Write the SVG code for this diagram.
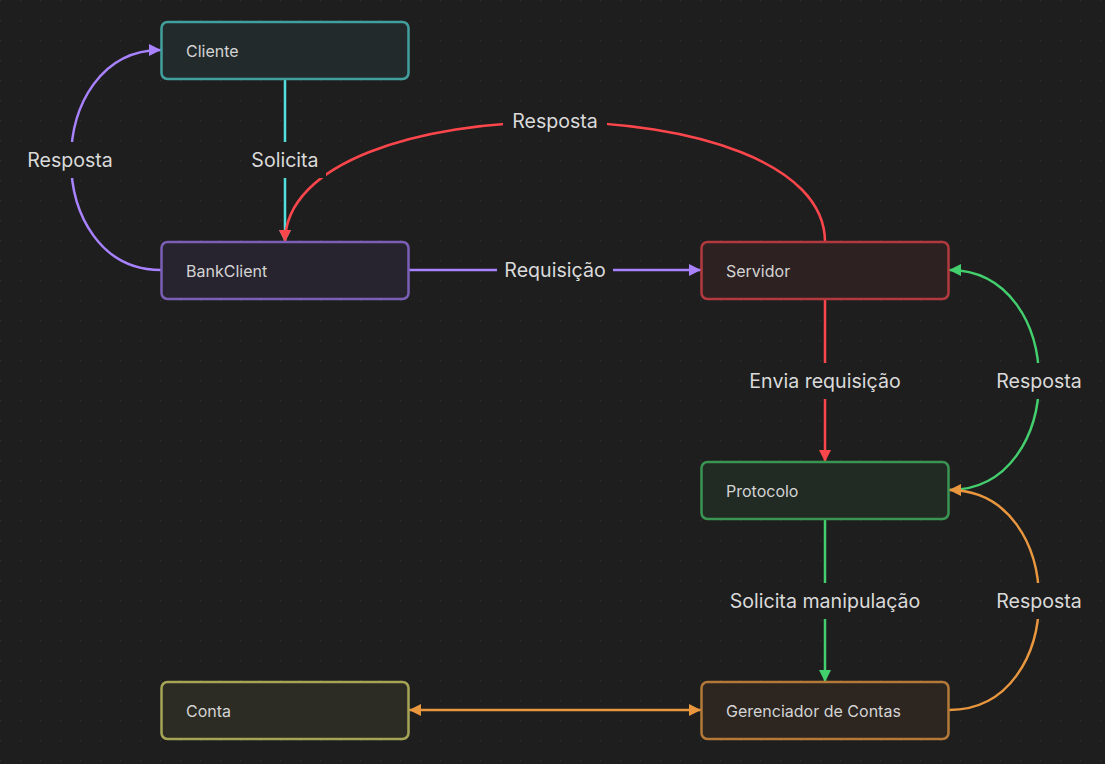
<svg xmlns="http://www.w3.org/2000/svg" width="1105" height="764" viewBox="0 0 1105 764">
<style>
.node rect{stroke-width:2.5}
.node text{font-family:Inter,"Noto Sans","Liberation Sans",sans-serif;font-size:16px;fill:#d4d4d4}
.edge{fill:none;stroke-width:2.5}
.lbl rect{fill:#1e1e1e}
.lbl text{font-family:Inter,"Noto Sans","Liberation Sans",sans-serif;font-size:19.6px;fill:#dadada;text-anchor:middle;dominant-baseline:central}
</style>
<defs>
<pattern id="dots" width="20" height="20" patternUnits="userSpaceOnUse">
<rect x="0" y="0" width="1.3" height="1.3" fill="#2f2f2f"/>
</pattern>
<marker id="aTeal" viewBox="0 0 12 12" refX="12" refY="6" markerWidth="12" markerHeight="12" markerUnits="userSpaceOnUse" orient="auto-start-reverse"><path d="M0,0 L12,6 L0,12 z" fill="#53dfdd"/></marker>
<marker id="aPurple" viewBox="0 0 12 12" refX="12" refY="6" markerWidth="12" markerHeight="12" markerUnits="userSpaceOnUse" orient="auto-start-reverse"><path d="M0,0 L12,6 L0,12 z" fill="#a882ff"/></marker>
<marker id="aRed" viewBox="0 0 12 12" refX="12" refY="6" markerWidth="12" markerHeight="12" markerUnits="userSpaceOnUse" orient="auto-start-reverse"><path d="M0,0 L12,6 L0,12 z" fill="#fb464c"/></marker>
<marker id="aGreen" viewBox="0 0 12 12" refX="12" refY="6" markerWidth="12" markerHeight="12" markerUnits="userSpaceOnUse" orient="auto-start-reverse"><path d="M0,0 L12,6 L0,12 z" fill="#44cf6e"/></marker>
<marker id="aOrange" viewBox="0 0 12 12" refX="12" refY="6" markerWidth="12" markerHeight="12" markerUnits="userSpaceOnUse" orient="auto-start-reverse"><path d="M0,0 L12,6 L0,12 z" fill="#e9973f"/></marker>
</defs>
<rect width="1105" height="764" fill="#1e1e1e"/>
<rect width="1105" height="764" fill="url(#dots)"/>

<g id="connectors">
<path class="edge" d="M285,79 L285,242" stroke="#53dfdd" marker-end="url(#aTeal)"/>
<path class="edge" d="M161,270 C41,270 41,50 161,50" stroke="#a882ff" marker-end="url(#aPurple)"/>
<path class="edge" d="M409,270 L701,270" stroke="#a882ff" marker-end="url(#aPurple)"/>
<path class="edge" d="M825,242 C825,82 285,82 285,242" stroke="#fb464c" marker-end="url(#aRed)"/>
<path class="edge" d="M825,299 L825,462" stroke="#fb464c" marker-end="url(#aRed)"/>
<path class="edge" d="M949,490 C1069,490 1069,270 949,270" stroke="#44cf6e" marker-end="url(#aGreen)"/>
<path class="edge" d="M825,519 L825,682" stroke="#44cf6e" marker-end="url(#aGreen)"/>
<path class="edge" d="M949,710 C1069,710 1069,490 949,490" stroke="#e9973f" marker-end="url(#aOrange)"/>
<path class="edge" d="M409,710 L701,710" stroke="#e9973f" marker-start="url(#aOrange)" marker-end="url(#aOrange)"/>

<g class="lbl"><rect x="18" y="142" width="104" height="36"/><text x="70" y="160">Resposta</text></g>
<g class="lbl"><rect x="244" y="142" width="82" height="36"/><text x="285" y="160">Solicita</text></g>
<g class="lbl"><rect x="503" y="103" width="104" height="36"/><text x="555" y="121">Resposta</text></g>
<g class="lbl"><rect x="497" y="252" width="116" height="36"/><text x="555" y="270">Requisição</text></g>
<g class="lbl"><rect x="741" y="363" width="168" height="36"/><text x="825" y="381">Envia requisição</text></g>
<g class="lbl"><rect x="987" y="363" width="104" height="36"/><text x="1039" y="381">Resposta</text></g>
<g class="lbl"><rect x="721" y="583" width="208" height="36"/><text x="825" y="601">Solicita manipulação</text></g>
<g class="lbl"><rect x="987" y="583" width="104" height="36"/><text x="1039" y="601">Resposta</text></g>
</g>

<g id="node-cliente" class="node"><rect x="161.5" y="22" width="247" height="57" rx="6" fill="#222a2b" stroke="#41a09e"/><text x="186" y="56.5">Cliente</text></g>
<g id="node-bankclient" class="node"><rect x="161.5" y="242" width="247" height="57" rx="6" fill="#28242f" stroke="#7b5fb6"/><text x="186" y="276.5">BankClient</text></g>
<g id="node-servidor" class="node"><rect x="701.5" y="242" width="247" height="57" rx="6" fill="#2d2122" stroke="#b23a3f"/><text x="726" y="276.5">Servidor</text></g>
<g id="node-protocolo" class="node"><rect x="701.5" y="462" width="247" height="57" rx="6" fill="#222a24" stroke="#3a9552"/><text x="726" y="496.5">Protocolo</text></g>
<g id="node-conta" class="node"><rect x="161.5" y="682" width="247" height="57" rx="6" fill="#2c2c24" stroke="#a6a556"/><text x="186" y="716.5">Conta</text></g>
<g id="node-gerenciador" class="node"><rect x="701.5" y="682" width="247" height="57" rx="6" fill="#2c2520" stroke="#b37938"/><text x="726" y="716.5">Gerenciador de Contas</text></g>
</svg>
